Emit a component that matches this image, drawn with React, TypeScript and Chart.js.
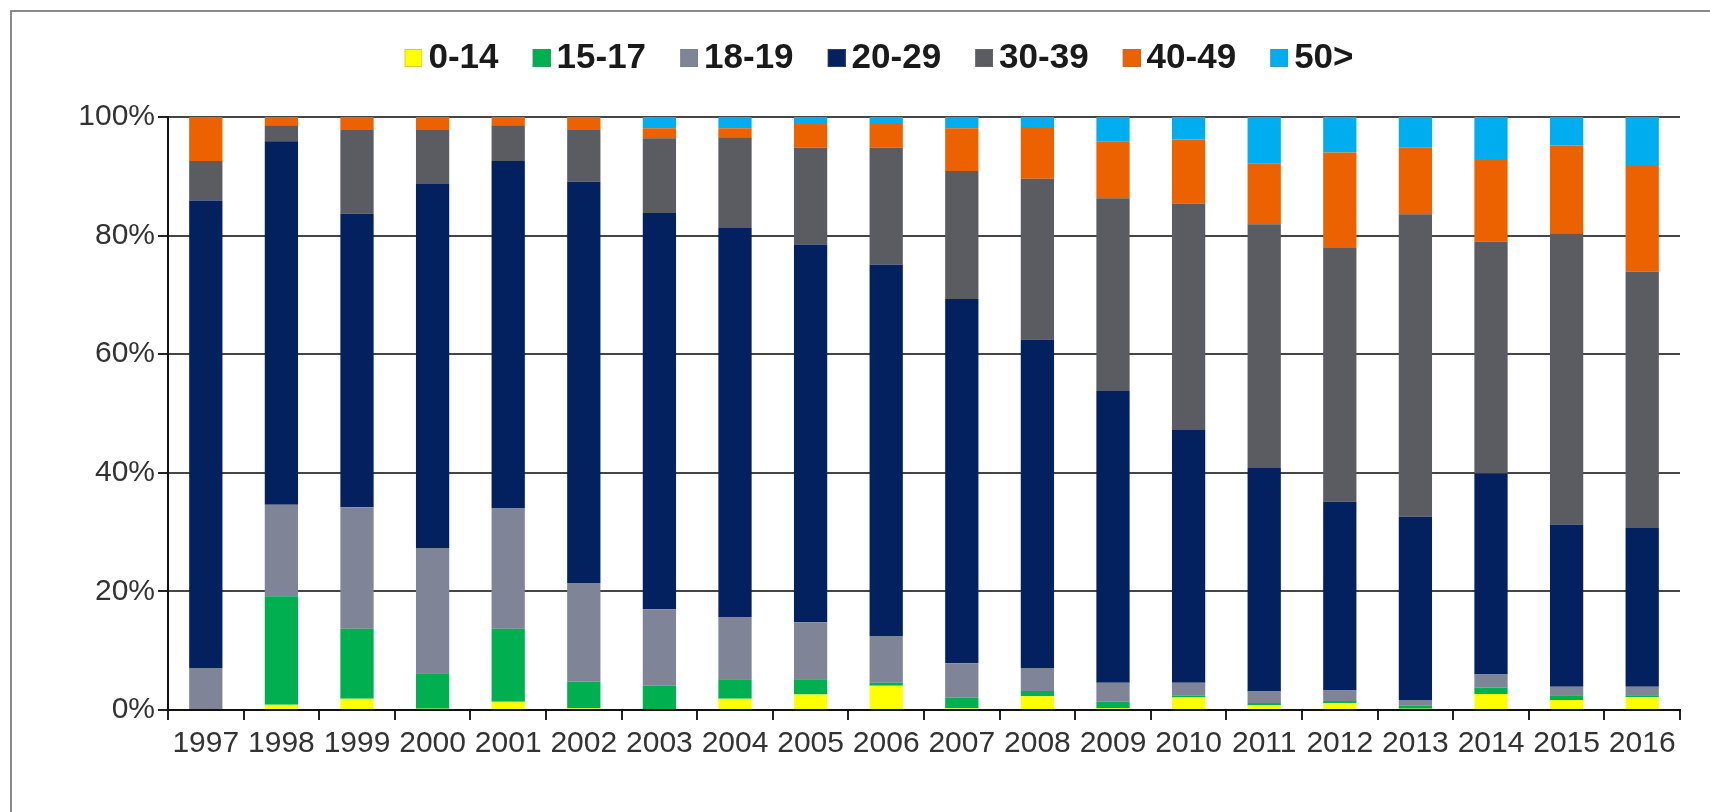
import React, { useEffect, useRef } from 'react';
import { Chart, registerables } from 'chart.js';

Chart.register(...registerables);

const years = ['1997', '1998', '1999', '2000', '2001', '2002', '2003', '2004', '2005', '2006', '2007', '2008', '2009', '2010', '2011', '2012', '2013', '2014', '2015', '2016'];
const ageGroups = ['0-14', '15-17', '18-19', '20-29', '30-39', '40-49', '50>'];

const age0to14 = [0, 0.9, 1.9, 0.2, 1.4, 0.3, 0, 1.9, 2.6, 4.1, 0.3, 2.3, 0.3, 2.1, 0.8, 1.2, 0.2, 2.7, 1.7, 2.2];
const age15to17 = [0, 18.3, 11.8, 6.0, 12.3, 4.5, 4.1, 3.3, 2.6, 0.5, 1.8, 0.9, 1.1, 0.3, 0.4, 0.3, 0.5, 1.1, 0.8, 0.3];
const age18to19 = [7.1, 15.4, 20.5, 21.1, 20.3, 16.6, 12.9, 10.4, 9.6, 7.9, 5.8, 3.9, 3.2, 2.2, 1.9, 1.8, 1.0, 2.2, 1.4, 1.4];
const age20to29 = [78.8, 61.3, 49.5, 61.4, 58.6, 67.7, 66.8, 65.7, 63.7, 62.6, 61.4, 55.4, 49.2, 42.6, 37.7, 31.8, 30.9, 33.9, 27.4, 26.8];
const age30to39 = [6.7, 2.7, 14.1, 9.1, 6.0, 8.7, 12.6, 15.3, 16.3, 19.7, 21.6, 27.1, 32.5, 38.2, 41.1, 42.8, 51.0, 39.1, 49.1, 43.2];
const age40to49 = [7.4, 1.4, 2.2, 2.2, 1.4, 2.2, 1.7, 1.5, 4.0, 4.0, 7.2, 8.7, 9.6, 10.8, 10.2, 16.1, 11.2, 13.9, 14.8, 18.0];
const age50plus = [0, 0, 0, 0, 0, 0, 1.9, 1.9, 1.2, 1.2, 1.9, 1.7, 4.1, 3.8, 7.9, 6.0, 5.2, 7.1, 4.8, 8.1];

const seriesValues = [age0to14, age15to17, age18to19, age20to29, age30to39, age40to49, age50plus];
const groupColors = ['#FFFF00', '#00B050', '#7F8597', '#03205F', '#5A5C61', '#EC6100', '#00AEEF'];

const yTickValues = [0, 20, 40, 60, 80, 100];

function makeSwatch(color: string): HTMLCanvasElement {
  const c = document.createElement('canvas');
  c.width = 41;
  c.height = 18;
  const ctx = c.getContext('2d')!;
  ctx.fillStyle = color;
  ctx.fillRect(23, 0, 18, 18);
  ctx.strokeStyle = 'rgba(120,120,120,0.35)';
  ctx.lineWidth = 1;
  ctx.strokeRect(23.5, 0.5, 17, 17);
  return c;
}

export default function App() {
  const ref = useRef<HTMLCanvasElement>(null);

  useEffect(() => {
    document.body.style.margin = '0';
    document.body.style.overflow = 'hidden';
    const swatches = groupColors.map(makeSwatch);
    const legendSpacer = {
      id: 'legendSpacer',
      beforeUpdate(chart: any) {
        if (chart.legend && !chart.legend.__patched) {
          const orig = chart.legend.fit;
          chart.legend.fit = function () {
            orig.call(this);
            this.height += 31.5;
          };
          chart.legend.__patched = true;
        }
      },
    };
    const font = "'Liberation Sans', Arial, sans-serif";
    const chart = new Chart(ref.current!, {
      type: 'bar',
      data: {
        labels: years,
        datasets: ageGroups.map((g, i) => ({
          label: g,
          data: seriesValues[i],
          backgroundColor: groupColors[i],
          borderWidth: 0,
          categoryPercentage: 1,
          barPercentage: 0.44,
        })),
      },
      options: {
        animation: false,
        responsive: true,
        maintainAspectRatio: false,
        layout: { padding: { left: 54.5, right: 30, top: 6, bottom: 0 } },
        plugins: {
          legend: {
            position: 'top',
            align: 'center',
            labels: {
              usePointStyle: true,
              pointStyleWidth: 18,
              boxWidth: 18,
              boxHeight: 18,
              padding: 22.5,
              color: '#1a1a1a',
              font: { family: font, size: 35, weight: 'bold' },
              generateLabels: (ch: any) => {
                const items = Chart.defaults.plugins.legend.labels.generateLabels(ch);
                return items.map((it: any, i: number) => ({ ...it, pointStyle: swatches[i] }));
              },
            },
          },
          tooltip: { enabled: false },
        },
        scales: {
          x: {
            stacked: true,
            offset: true,
            grid: {
              offset: true,
              drawOnChartArea: false,
              drawTicks: true,
              tickLength: 10,
              tickColor: '#222',
              lineWidth: 2,
            },
            border: { color: '#111', width: 2 },
            ticks: {
              color: '#333',
              padding: 6,
              autoSkip: false,
              maxRotation: 0,
              font: { family: font, size: 30 },
            },
            afterFit: (s: any) => {
              s.height = 90;
            },
          },
          y: {
            stacked: true,
            min: 0,
            max: 100,
            afterBuildTicks: (s: any) => {
              s.ticks = yTickValues.map((v) => ({ value: v }));
            },
            grid: {
              color: '#454545',
              lineWidth: 2,
              drawTicks: true,
              tickLength: 10,
              tickColor: '#222',
            },
            border: { color: '#111', width: 2 },
            ticks: {
              color: '#333',
              padding: 3,
              font: { family: font, size: 30 },
              callback: (v: any) => v + '%',
            },
            afterFit: (s: any) => {
              s.width = 101.5;
            },
          },
        },
      },
      plugins: [legendSpacer],
    });
    return () => chart.destroy();
  }, []);

  return (
    <div
      style={{
        position: 'fixed',
        left: 10,
        top: 10,
        width: 1800,
        height: 900,
        border: '2px solid #8a8a8a',
        background: '#fff',
      }}
    >
      <div style={{ position: 'absolute', left: 0, top: 0, width: 1698, height: 788 }}>
        <canvas ref={ref} />
      </div>
    </div>
  );
}
